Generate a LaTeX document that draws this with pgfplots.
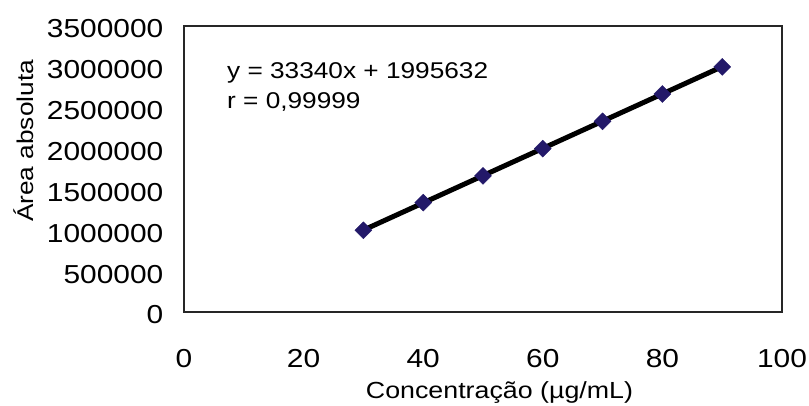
\documentclass[border=0pt]{standalone}
\usepackage{pgfplots}
\pgfplotsset{compat=1.18}
\usepackage{fontspec}
\setmainfont{Liberation Sans}[FakeStretch=1.15]

\definecolor{markblue}{RGB}{35,25,105}

% calibration points
\pgfplotstableread{
conc area
30 1000000
40 1338000
50 1665000
60 2000000
70 2333000
80 2668000
90 3000000
}\calib

\begin{document}
\begin{tikzpicture}
\useasboundingbox (0,0) rectangle (809pt,405pt);
\begin{axis}[
  at={(184pt,93pt)}, anchor=south west,
  scale only axis, width=598pt, height=286pt,
  xmin=0, xmax=100, ymin=0, ymax=3500000,
  xtick={0,20,40,60,80,100},
  xticklabels={0,20,40,60,80,100},
  ytick={0,500000,1000000,1500000,2000000,2500000,3000000,3500000},
  yticklabels={0,500000,1000000,1500000,2000000,2500000,3000000,3500000},
  scaled ticks=false,
  major tick length=0pt,
  tick style={draw=none},
  axis line style={line width=1.2pt, draw=black!85},
  x tick label style={font=\fontsize{26}{30}\selectfont, anchor=base, yshift=-55pt},
  y tick label style={font=\fontsize{26}{30}\selectfont, anchor=east, inner sep=0pt, xshift=-20.5pt, yshift=-3pt},
  every axis x label/.style={at={(rel axis cs:0.5276,-0.3007)}, anchor=base, font=\fontsize{23.3}{28}\selectfont},
  every axis y label/.style={at={(rel axis cs:-0.2525,0.598)}, rotate=90, anchor=base, font=\fontsize{22.8}{28}\selectfont},
  xlabel={Concentração (µg/mL)},
  ylabel={Área absoluta},
  clip=false,
]
\addplot[only marks, mark=square*, mark size=6pt,
  mark options={rotate=45, fill=markblue, draw=markblue}]
  table[x=conc, y=area] {\calib};
% linear regression line
\addplot[black, line width=5pt, line cap=butt]
  coordinates {(30,1002196) (90,3002596)};
\node[anchor=base west, inner sep=0pt, font=\fontsize{22.8}{28}\selectfont]
  at (rel axis cs:0.0719,0.818) {y = 33340x + 1995632};
\node[anchor=base west, inner sep=0pt, font=\fontsize{22.8}{28}\selectfont]
  at (rel axis cs:0.0719,0.710) {r = 0,99999};
\end{axis}
\end{tikzpicture}
\end{document}
